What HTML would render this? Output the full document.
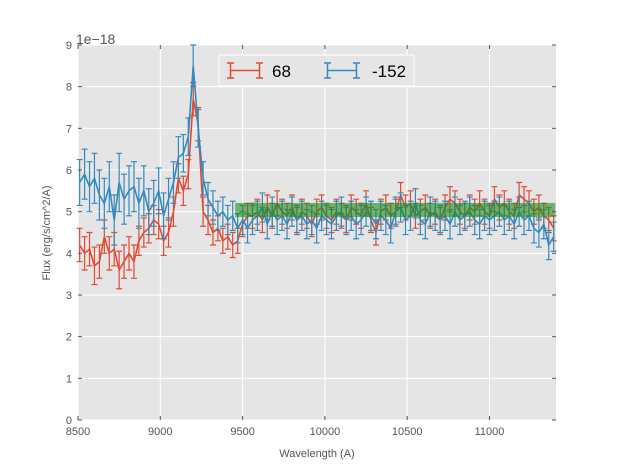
<!DOCTYPE html>
<html><head><meta charset="utf-8"><style>
body{margin:0;background:#fff;}
svg{display:block;font-family:"Liberation Sans","DejaVu Sans",sans-serif;}
</style></head><body>
<svg id="chart" width="617" height="467" viewBox="0 0 617 467" xmlns="http://www.w3.org/2000/svg">
<rect x="78" y="45" width="478" height="375" fill="#e5e5e5"/>
<g id="grid"></g>
<g id="series"></g>
<g id="band"></g>
<g id="ticks"></g>
<text x="76" y="44" font-size="14" fill="#555">1e−18</text>
<text x="317" y="457" font-size="11" fill="#555" text-anchor="middle">Wavelength (A)</text>
<text transform="translate(50,233) rotate(-90)" font-size="11" fill="#555" text-anchor="middle">Flux (erg/s/cm^2/A)</text>
<g>
<rect x="219" y="55" width="195" height="31" fill="#e5e5e5" stroke="#fff" stroke-width="1"/>
<g>
<path d="M230 70.5H260M230.5 63v15M259.5 63v15M227 63h7M227 78h7M256 63h7M256 78h7" stroke="#E24A33" stroke-width="1.5" fill="none"/>
<text x="272" y="77" font-size="17" fill="#000">68</text></g>
<g>
<path d="M327 70.5H357M327.5 63v15M356.5 63v15M324 63h7M324 78h7M353 63h7M353 78h7" stroke="#348ABD" stroke-width="1.5" fill="none"/>
<text x="372" y="77" font-size="17" fill="#000">-152</text></g>
</g>
</svg>
<script>
const xStart = 8510, xStep = 30;
const red68 = [4.2,4.0,4.1,3.7,3.8,4.4,4.0,4.1,3.6,3.8,4.0,3.8,4.3,4.5,4.6,4.8,4.7,4.3,4.5,5.0,5.8,5.5,5.9,7.7,7.1,5.0,4.8,4.5,4.6,4.3,4.4,4.2,4.3,4.7,4.9,
4.9,5.0,4.8,5.1,4.9,5.2,5.0,4.9,5.1,4.8,5.0,4.9,4.7,5.0,5.1,4.9,4.8,5.0,4.9,4.8,5.1,5.0,4.9,5.2,4.8,4.5,5.0,5.1,4.9,5.0,5.4,5.1,5.2,4.9,5.0,5.1,4.9,5.0,4.8,5.1,5.3,5.2,5.0,4.9,5.1,5.0,5.2,5.0,4.9,5.3,5.1,5.2,5.0,4.9,5.4,5.3,5.2,5.0,5.1,4.9,4.8,4.6];
const blue152 = [5.7,5.9,5.6,5.8,5.4,5.2,5.6,4.8,5.7,5.3,5.5,5.6,5.2,5.5,5.0,5.2,5.5,4.9,5.3,5.7,6.3,6.4,6.8,8.5,7.0,5.8,5.3,5.1,4.9,5.0,4.8,4.9,4.6,4.8,4.6,
4.8,4.9,5.1,4.7,5.0,4.8,4.9,4.7,5.0,4.8,4.9,4.7,4.8,4.6,4.9,4.8,4.7,4.9,5.0,4.8,4.9,4.7,4.8,5.0,4.9,4.7,4.9,4.8,4.6,5.0,5.1,4.8,4.9,5.2,4.8,4.7,5.0,4.9,4.8,4.9,4.7,5.0,4.8,4.9,5.0,4.8,4.7,4.9,4.8,4.9,5.0,4.8,4.9,4.7,5.0,4.8,4.9,4.6,4.5,4.7,4.2,4.4];
const redErr = [0.4,0.4,0.4,0.45,0.4,0.4,0.4,0.4,0.45,0.4,0.4,0.4,0.35,0.35,0.35,0.35,0.35,0.35,0.35,0.35,0.35,0.35,0.35,0.4,0.4,0.35,0.35,0.3,0.3,0.3,0.3,0.3,0.3,0.3,0.3];
const redErrTail = 0.3;
const blueErr = [0.55,0.6,0.6,0.6,0.6,0.6,0.6,0.6,0.7,0.6,0.6,0.6,0.6,0.6,0.55,0.55,0.55,0.55,0.5,0.5,0.5,0.45,0.45,0.5,0.45,0.4,0.4,0.4,0.35,0.35,0.35,0.35,0.35,0.35,0.35];
const blueErrTail = 0.35;
const bandRange = [9455, 11400, 4.87, 5.21];
const xTicks = [8500,9000,9500,10000,10500,11000];
const yTicks = [0,1,2,3,4,5,6,7,8,9];

const L=78,R=556,T=45,B=420, xMin=8500,xMax=11404,yMin=0,yMax=9;
const sx=v=>L+(v-xMin)/(xMax-xMin)*(R-L);
const sy=v=>B-(v-yMin)/(yMax-yMin)*(B-T);
const NS="http://www.w3.org/2000/svg";
function mk(tag,attrs,parent){const e=document.createElementNS(NS,tag);for(const k in attrs)e.setAttribute(k,attrs[k]);parent.appendChild(e);return e;}
const grid=document.getElementById('grid'),ticks=document.getElementById('ticks'),ser=document.getElementById('series'),band=document.getElementById('band');
xTicks.forEach(t=>{const x=sx(t);
 const g=mk('line',{x1:x,x2:x,y1:T,y2:B,stroke:'#fff','stroke-width':1},grid);
 
 
 mk('line',{x1:x,x2:x,y1:B,y2:B-4,stroke:'#555'},ticks);
 mk('line',{x1:x,x2:x,y1:T,y2:T+4,stroke:'#555'},ticks);
 const lb=mk('text',{x:x,y:B+15,'font-size':11,fill:'#555','text-anchor':'middle'},ticks);
 lb.textContent=t;
 
 
});
yTicks.forEach(t=>{const y=sy(t);
 const g=mk('line',{x1:L,x2:R,y1:y,y2:y,stroke:'#fff','stroke-width':1},grid);
 
 
 mk('line',{x1:L,x2:L+4,y1:y,y2:y,stroke:'#555'},ticks);
 mk('line',{x1:R,x2:R-4,y1:y,y2:y,stroke:'#555'},ticks);
 const lb=mk('text',{x:L-6,y:y+4,'font-size':11,fill:'#555','text-anchor':'end'},ticks);
 lb.textContent=t;
 
 
});
function drawSeries(vals,errs,tail,color,name){
 const g=mk('g',{},ser);
 
 
 let d='',pts=[];
 vals.forEach((v,i)=>{const x=sx(xStart+i*xStep);const e=i<errs.length?errs[i]:tail;
  const y1=sy(v+e),y2=sy(v-e);
  d+=`M${x} ${y1}V${y2}M${x-3} ${y1}h6M${x-3} ${y2}h6`;
  pts.push(x+','+sy(v));});
 mk('path',{d:d,stroke:color,'stroke-width':1.2,fill:'none'},g);
 mk('polyline',{points:pts.join(' '),stroke:color,'stroke-width':1.6,fill:'none'},g);
}
drawSeries(red68,redErr,redErrTail,'#E24A33','series-68');
drawSeries(blue152,blueErr,blueErrTail,'#348ABD','series-minus-152');
const b=mk('rect',{x:sx(bandRange[0]),y:sy(bandRange[3]),width:Math.min(R,sx(bandRange[1]))-sx(bandRange[0]),height:sy(bandRange[2])-sy(bandRange[3]),fill:'#1e8c1e','fill-opacity':0.6},band);


</script>
</body></html>
